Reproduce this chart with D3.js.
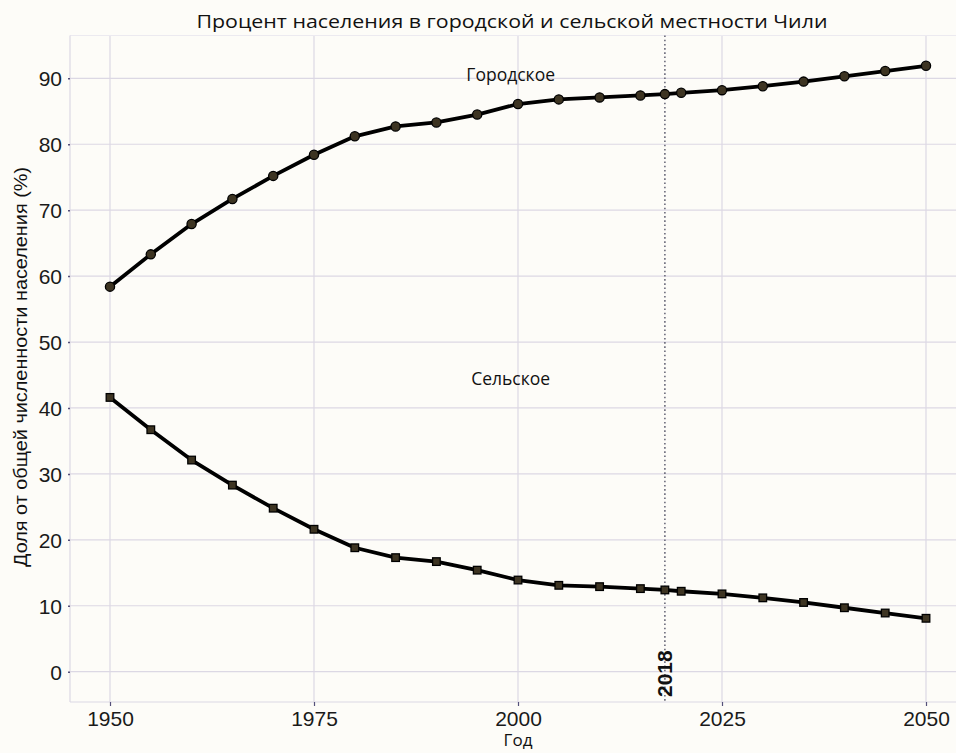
<!DOCTYPE html>
<html>
<head>
<meta charset="utf-8">
<script src="https://cdn.jsdelivr.net/npm/d3@7"></script>
<style>
  html, body { margin: 0; padding: 0; background: #fdfcf8; }
  svg { display: block; }
</style>
</head>
<body>
<svg id="chart" width="956" height="753"></svg>
<script>
const years = [1950,1955,1960,1965,1970,1975,1980,1985,1990,1995,2000,2005,2010,2015,2018,2020,2025,2030,2035,2040,2045,2050];
const urban = [58.4,63.3,67.9,71.7,75.2,78.4,81.2,82.7,83.3,84.5,86.1,86.8,87.1,87.4,87.6,87.8,88.2,88.8,89.5,90.3,91.1,91.9];
const rural = [41.6,36.7,32.1,28.3,24.8,21.6,18.8,17.3,16.7,15.4,13.9,13.1,12.9,12.6,12.4,12.2,11.8,11.2,10.5,9.7,8.9,8.1];
const xTicks = [1950,1975,2000,2025,2050];
const yTicks = [0,10,20,30,40,50,60,70,80,90];
const markerYear = 2018;
const title = "Процент населения в городской и сельской местности Чили";
const xTitle = "Год";
const yTitle = "Доля от общей численности населения (%)";
const seriesLabels = ["Городское", "Сельское"];
const labelPos = [[1999.1, 90.5], [1999.1, 44.4]];

(function () {
const svg = d3.select("#chart");
const pLeft = 70, pRight = 990, pTop = 35.5, pBottom = 702;
const x = d3.scaleLinear().domain([1950, 2050]).range([110, 926]);
const y = d3.scaleLinear().domain([0, 90]).range([671.7, 78.3]);
const grid = "#dcd8e4";

svg.append("rect").attr("width", 956).attr("height", 753).attr("fill", "#fdfcf8");

// grid
const g = svg.append("g");
g.selectAll(".hg").data(yTicks).join("line")
  .attr("x1", pLeft).attr("x2", pRight).attr("y1", d => y(d)).attr("y2", d => y(d))
  .attr("stroke", grid).attr("stroke-width", 1.2);
g.selectAll(".vg").data(xTicks).join("line")
  .attr("y1", pTop).attr("y2", pBottom).attr("x1", d => x(d)).attr("x2", d => x(d))
  .attr("stroke", grid).attr("stroke-width", 1.2);
g.append("line").attr("x1", pLeft).attr("x2", pRight).attr("y1", pTop).attr("y2", pTop).attr("stroke", "#eceaf0").attr("stroke-width", 1);
g.append("line").attr("x1", pLeft).attr("x2", pLeft).attr("y1", pTop).attr("y2", pBottom).attr("stroke", grid).attr("stroke-width", 1.2);
g.append("line").attr("x1", pLeft).attr("x2", pRight).attr("y1", pBottom).attr("y2", pBottom).attr("stroke", grid).attr("stroke-width", 1.2);

// axes
const yAxis = d3.axisLeft(y).tickValues(yTicks).tickSize(5).tickPadding(3);
const ya = svg.append("g").attr("transform", `translate(${pLeft},0)`).call(yAxis);
ya.select(".domain").remove();
ya.selectAll(".tick line").attr("stroke", "#55507a").attr("stroke-width", 1.5).attr("stroke-dasharray", "2,3");
ya.selectAll(".tick text").attr("font-family", "Liberation Sans, Arial, sans-serif").attr("font-size", 21).attr("fill", "#1a1a1a").attr("dy", "0.36em");

const xAxis = d3.axisBottom(x).tickValues(xTicks).tickFormat(d3.format("d")).tickSize(4).tickPadding(2);
const xa = svg.append("g").attr("transform", `translate(0,${pBottom})`).call(xAxis);
xa.select(".domain").remove();
xa.selectAll(".tick line").attr("stroke", "#55507a").attr("stroke-width", 1.2);
xa.selectAll(".tick text").attr("font-family", "Liberation Sans, Arial, sans-serif").attr("font-size", 21).attr("fill", "#1a1a1a").attr("dy", "0.85em");

// 2018 dotted line
svg.append("line").attr("x1", x(markerYear)).attr("x2", x(markerYear)).attr("y1", pTop).attr("y2", pBottom)
  .attr("stroke", "#6a6a7a").attr("stroke-width", 1.6).attr("stroke-dasharray", "1.6,2.6");
svg.append("text")
  .attr("transform", `translate(${x(markerYear) + 7.5},697) rotate(-90)`)
  .attr("font-family", "Liberation Sans, Arial, sans-serif").attr("font-weight", "bold")
  .attr("font-size", 21).attr("fill", "#111").text(markerYear);

// lines
const line = d3.line().x(d => x(d[0])).y(d => y(d[1]));
const uData = years.map((yr, i) => [yr, urban[i]]);
const rData = years.map((yr, i) => [yr, rural[i]]);
svg.append("path").datum(uData).attr("d", line).attr("fill", "none").attr("stroke", "#000").attr("stroke-width", 3.8).attr("stroke-linejoin", "round");
svg.append("path").datum(rData).attr("d", line).attr("fill", "none").attr("stroke", "#000").attr("stroke-width", 3.8).attr("stroke-linejoin", "round");

svg.selectAll(".u").data(uData).join("circle")
  .attr("cx", d => x(d[0])).attr("cy", d => y(d[1])).attr("r", 4.6)
  .attr("fill", "#3d3422").attr("stroke", "#000").attr("stroke-width", 1.3);
svg.selectAll(".r").data(rData).join("rect")
  .attr("x", d => x(d[0]) - 3.8).attr("y", d => y(d[1]) - 3.8).attr("width", 7.6).attr("height", 7.6)
  .attr("fill", "#3d3422").attr("stroke", "#000").attr("stroke-width", 1.3);

// series labels
svg.selectAll(".sl").data(seriesLabels).join("text")
  .attr("x", (d, i) => x(labelPos[i][0])).attr("y", (d, i) => y(labelPos[i][1]))
  .attr("text-anchor", "middle").attr("dy", "0.35em")
  .attr("font-family", "Open Sans, Noto Sans, sans-serif").attr("font-size", 17.5).attr("fill", "#111")
  .text(d => d);

// titles
svg.append("text").attr("x", 512).attr("y", 28).attr("text-anchor", "middle")
  .attr("font-family", "Open Sans, Noto Sans, sans-serif").attr("font-size", 18).attr("fill", "#111")
  .attr("textLength", 631).attr("lengthAdjust", "spacingAndGlyphs")
  .text(title);
svg.append("text").attr("x", 518).attr("y", 746).attr("text-anchor", "middle")
  .attr("font-family", "Open Sans, Noto Sans, sans-serif").attr("font-size", 17).attr("fill", "#111")
  .text(xTitle);
svg.append("text").attr("transform", "translate(27,367) rotate(-90)").attr("text-anchor", "middle")
  .attr("font-family", "Liberation Sans, Arial, sans-serif").attr("font-size", 18).attr("fill", "#111")
  .attr("textLength", 400).attr("lengthAdjust", "spacingAndGlyphs")
  .text(yTitle);
})();
</script>
</body>
</html>
